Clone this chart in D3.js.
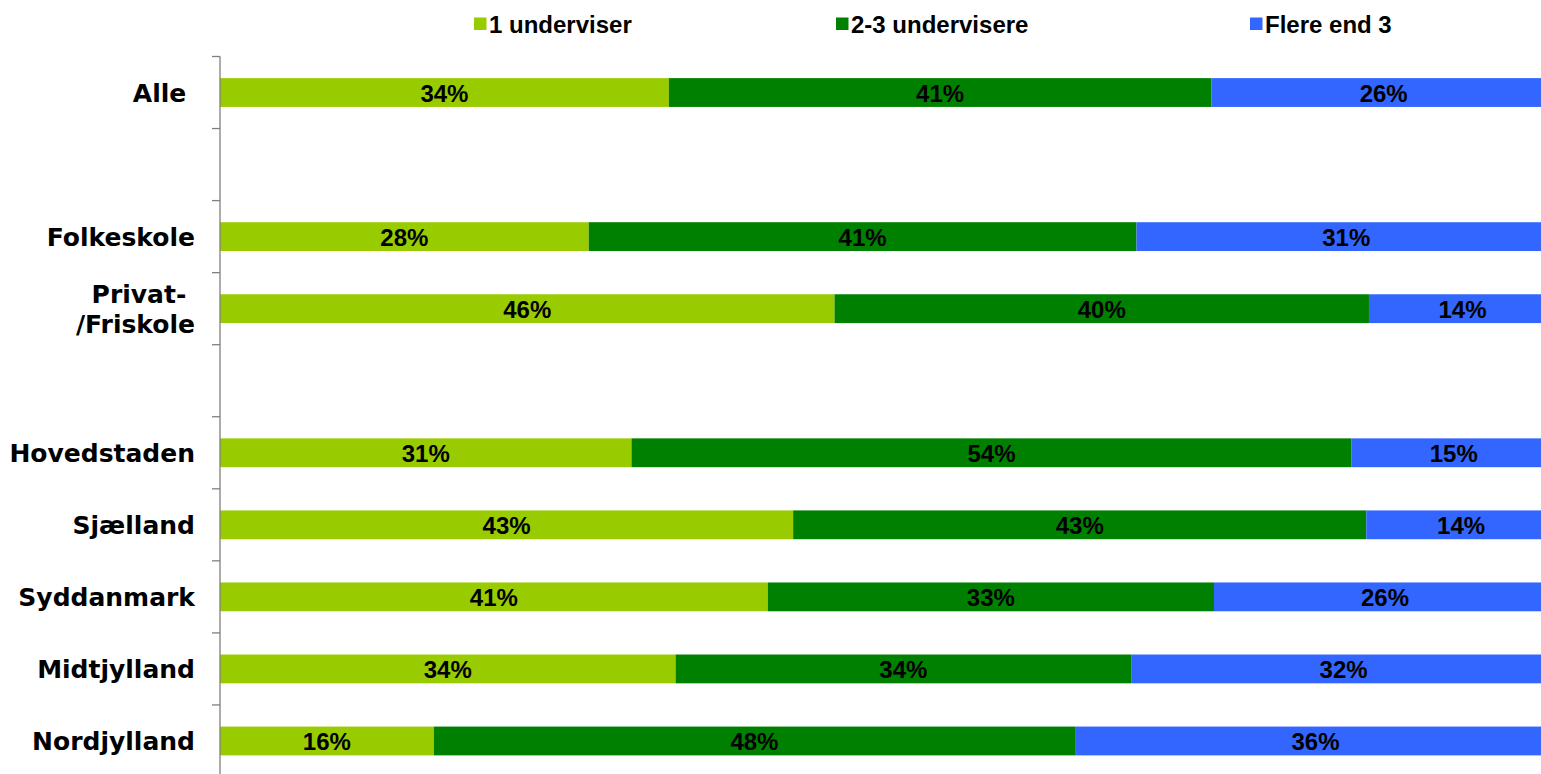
<!DOCTYPE html>
<html>
<head>
<meta charset="utf-8">
<script src="https://cdn.jsdelivr.net/npm/d3@7"></script>
<style>
  html, body { margin: 0; padding: 0; background: #fff; overflow: hidden; }
  svg { display: block; }
  .cat { font-family: "DejaVu Sans", Verdana, sans-serif; font-weight: bold; font-size: 25px; fill: #000; white-space: pre; }
  .val { font-family: "Liberation Sans", Arial, sans-serif; font-weight: bold; font-size: 24px; fill: #000; }
  .leg { font-family: "Liberation Sans", Arial, sans-serif; font-weight: bold; font-size: 24px; fill: #000; }
</style>
</head>
<body>
<svg id="chart" width="1541" height="774"></svg>
<script>
// ---- data ----
// category rows (top to bottom); empty strings are gap rows
const categories = ["Alle ", "", "Folkeskole", "Privat- /Friskole", " ", "Hovedstaden", "Sjælland", "Syddanmark", "Midtjylland", "Nordjylland"];
const seriesNames = ["1 underviser", "2-3 undervisere", "Flere end 3"];
const seriesColors = ["#99CC00", "#008000", "#3366FF"];
// percentages per series, aligned with categories (null = gap row)
const oneTeacher   = [33.6, null, 27.6, 46.0, null, 30.8, 42.9, 41.0, 34.1, 16.0];
const twoToThree   = [40.6, null, 41.0, 40.0, null, 53.9, 42.9, 33.4, 34.1, 48.0];
const moreThan3    = [25.8, null, 31.4, 14.0, null, 15.3, 14.2, 25.6, 31.8, 36.0];

// ---- layout ----
const svg = d3.select("#chart");
const plotLeft = 220, plotRight = 1556, plotTop = 56.5, plotBottom = 777;

const x = d3.scaleLinear().domain([0, 100]).range([plotLeft, plotRight]);
const y = d3.scaleBand().domain(categories).range([plotTop, plotBottom])
  .paddingInner(0.6).paddingOuter(0.3);

const rows = categories.map((c, i) => ({
  cat: c,
  [seriesNames[0]]: oneTeacher[i],
  [seriesNames[1]]: twoToThree[i],
  [seriesNames[2]]: moreThan3[i]
})).filter(d => d[seriesNames[0]] != null);

const stack = d3.stack().keys(seriesNames);
const stacked = stack(rows);

// bars
const g = svg.append("g");
stacked.forEach((layer, si) => {
  g.selectAll(null).data(layer).enter().append("rect")
    .attr("x", d => x(d[0]))
    .attr("y", d => y(d.data.cat))
    .attr("width", d => x(d[1]) - x(d[0]))
    .attr("height", y.bandwidth())
    .attr("fill", seriesColors[si]);
  g.selectAll(null).data(layer).enter().append("text")
    .attr("class", "val")
    .attr("x", d => (x(d[0]) + x(d[1])) / 2)
    .attr("y", d => y(d.data.cat) + y.bandwidth() / 2)
    .attr("dy", "0.38em")
    .attr("text-anchor", "middle")
    .text(d => Math.round(d[1] - d[0]) + "%");
});

// axis line + ticks at band boundaries
const axisG = svg.append("g");
axisG.append("line")
  .attr("x1", plotLeft).attr("x2", plotLeft)
  .attr("y1", plotTop).attr("y2", plotBottom)
  .attr("stroke", "#7f7f7f").attr("stroke-width", 1.3);
const boundaries = d3.range(categories.length + 1).map(i => plotTop + i * y.step());
axisG.selectAll(null).data(boundaries).enter().append("line")
  .attr("x1", plotLeft - 8).attr("x2", plotLeft)
  .attr("y1", d => d).attr("y2", d => d)
  .attr("stroke", "#7f7f7f").attr("stroke-width", 1.3);

// category labels
const labelX = 195;
categories.forEach(c => {
  if (!c.trim()) return;
  const cy = y(c) + y.bandwidth() / 2;
  const parts = c.includes(" /") ? [c.split("/")[0], "/" + c.split("/")[1]] : [c];
  const lh = 30;
  const t = svg.append("text").attr("class", "cat").attr("text-anchor", "end");
  parts.forEach((p, i) => {
    t.append("tspan")
      .attr("x", labelX)
      .attr("y", cy + (i - (parts.length - 1) / 2) * lh)
      .attr("dy", "0.36em")
      .text(p);
  });
});

// legend
const legendX = [474, 836, 1250];
const legend = svg.append("g");
seriesNames.forEach((s, i) => {
  legend.append("rect")
    .attr("x", legendX[i]).attr("y", 17.5)
    .attr("width", 12.5).attr("height", 12.5)
    .attr("fill", seriesColors[i]);
  legend.append("text")
    .attr("class", "leg")
    .attr("x", legendX[i] + 15).attr("y", 32.5)
    .text(s);
});
</script>
</body>
</html>
